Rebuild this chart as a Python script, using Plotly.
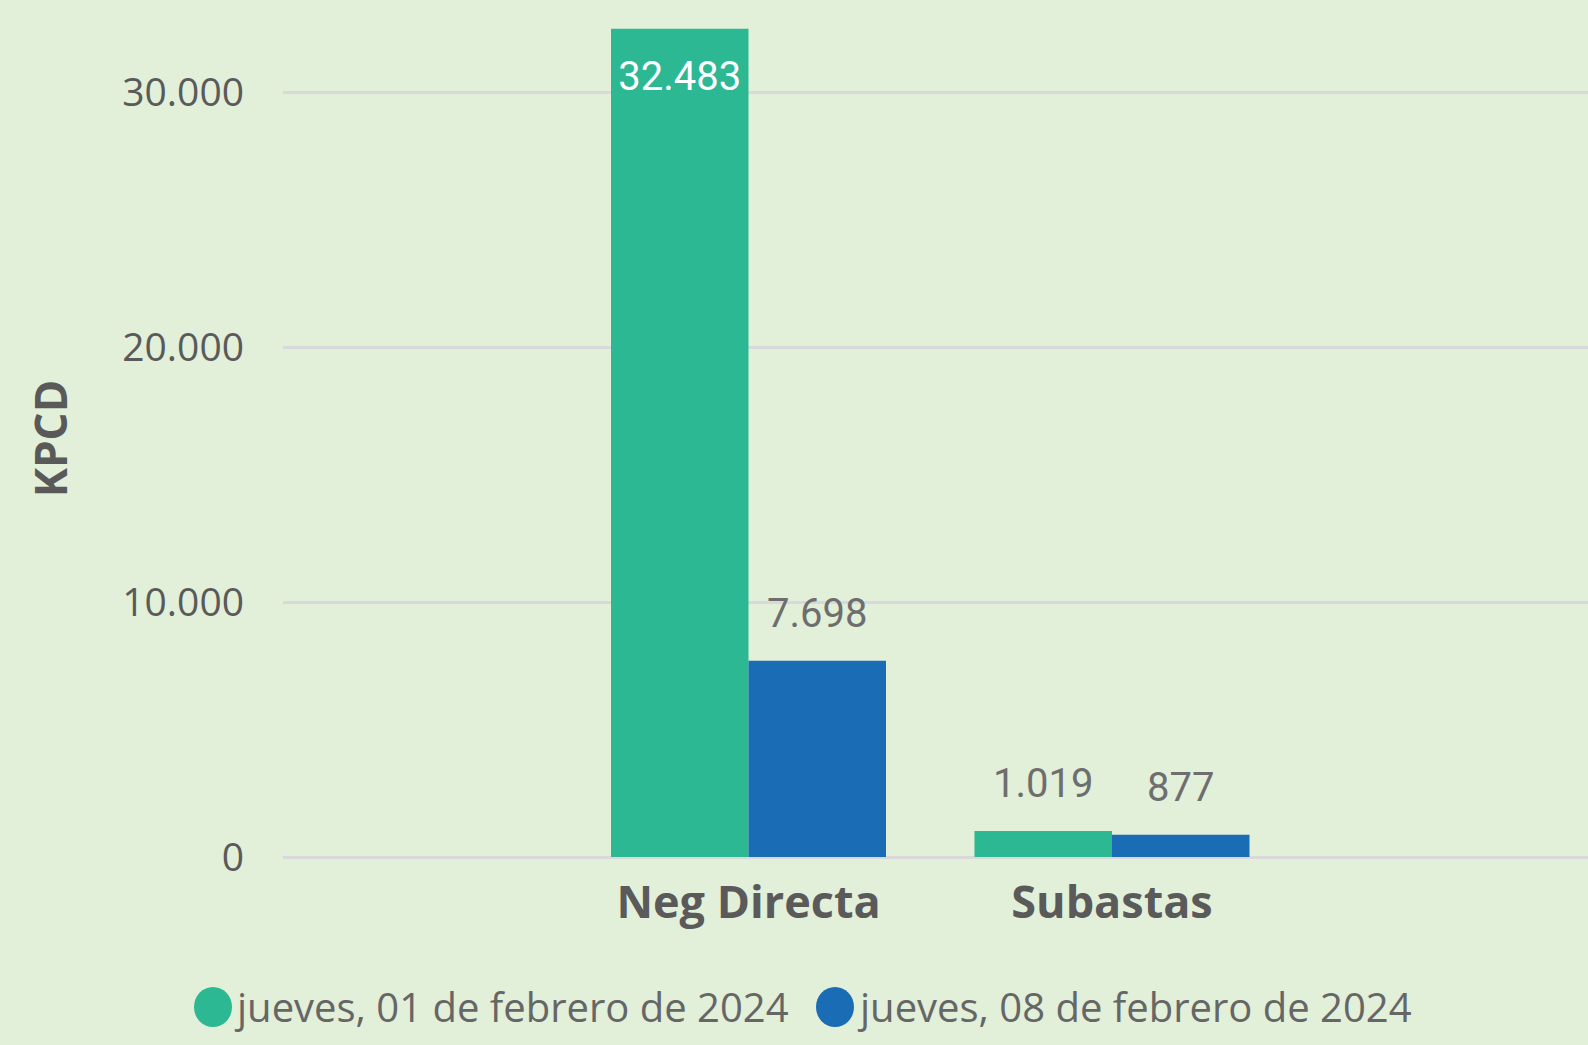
import plotly.graph_objects as go

# ---- data ----
categories = ["Neg Directa", "Subastas"]
series_names = ["jueves, 01 de febrero de 2024", "jueves, 08 de febrero de 2024"]
values_feb01 = [32483, 1019]
values_feb08 = [7698, 877]
y_tick_values = [0, 10000, 20000, 30000]

# ---- styles ----
GREEN = "#2CB893"
BLUE = "#1A6CB4"
BG = "#E2EFD9"
GRID = "#D9D9DC"
TXT = "#5A5A5A"
LBL = "#6E6E6E"

W, H = 1588, 1045
ML, MR, MT, MB = 283, 0, 20, 188
PW = W - ML - MR
PH = H - MT - MB
PX_PER_UNIT = 0.0255
BARGAP = 0.2435

fig = go.Figure()

series = [(series_names[0], values_feb01, GREEN), (series_names[1], values_feb08, BLUE)]
for name, vals, col in series:
    fig.add_trace(go.Bar(
        x=categories, y=vals, name=name,
        marker=dict(color=col, line=dict(width=0)),
        showlegend=False, hoverinfo="skip",
    ))

# value labels (invisible markers grouped like the bars)
label_pos = [["bottom center", "top center"], ["top center", "top center"]]
label_col = [["#FFFFFF", LBL], [LBL, LBL]]
label_size = [[48, 37], [37, 37]]
for i, (name, vals, col) in enumerate(series):
    fig.add_trace(go.Scatter(
        x=categories, y=vals, mode="markers+text",
        text=vals, texttemplate="%{y:,.0f}",
        textposition=label_pos[i],
        textfont=dict(family="Roboto", size=40, color=label_col[i]),
        marker=dict(size=label_size[i], color="rgba(0,0,0,0)", line=dict(width=0)),
        showlegend=False, hoverinfo="skip", cliponaxis=False,
    ))

# manual legend (large circles)
def px_to_paper_x(px):
    return (px - ML) / PW

def px_to_paper_y(py):
    return (H - MB - py) / PH

legend_y = px_to_paper_y(1007)
legend_items = [(213, 232, GREEN, series_names[0]), (835, 855, BLUE, series_names[1])]
shapes = []
annotations = []
for cx, tx, col, name in legend_items:
    shapes.append(dict(
        type="circle", xref="paper", yref="paper",
        xsizemode="pixel", ysizemode="pixel",
        xanchor=px_to_paper_x(cx), yanchor=legend_y,
        x0=-19, x1=19, y0=-20, y1=20,
        fillcolor=col, line=dict(width=0),
    ))
    annotations.append(dict(
        xref="paper", yref="paper", x=px_to_paper_x(tx), y=legend_y,
        xanchor="left", yanchor="middle", showarrow=False,
        text=name, font=dict(family="Open Sans", size=40, color="#666666"),
    ))

fig.update_layout(
    width=W, height=H,
    margin=dict(l=ML, r=MR, t=MT, b=MB, autoexpand=False),
    paper_bgcolor=BG, plot_bgcolor=BG,
    barmode="group", bargap=BARGAP, bargroupgap=0,
    scattermode="group", scattergap=BARGAP,
    separators=",.",
    showlegend=False,
    shapes=shapes, annotations=annotations,
    font=dict(family="Open Sans", color=TXT),
)
fig.update_xaxes(
    type="category",
    range=[-1.2806, 2.3095],
    showgrid=False, showline=False, zeroline=False, ticks="",
    tickfont=dict(family="Open Sans", size=45, color=TXT, weight="bold"),
    ticklabelstandoff=15,
    fixedrange=True,
)
fig.update_yaxes(
    range=[0, PH / PX_PER_UNIT],
    tickvals=y_tick_values, tickformat=",d",
    showgrid=True, gridcolor=GRID, gridwidth=3,
    zeroline=True, zerolinecolor=GRID, zerolinewidth=3,
    showline=False, ticks="",
    tickfont=dict(family="Open Sans", size=39, color=TXT),
    ticklabelstandoff=38,
    title=dict(text="<b>KPCD</b>", font=dict(family="Open Sans", size=44, color="#595959"), standoff=40),
    fixedrange=True,
)

fig.write_html(
    "out.html",
    config={"displayModeBar": False},
    post_script="document.body.style.margin='0';document.body.style.background='" + BG + "';",
)
